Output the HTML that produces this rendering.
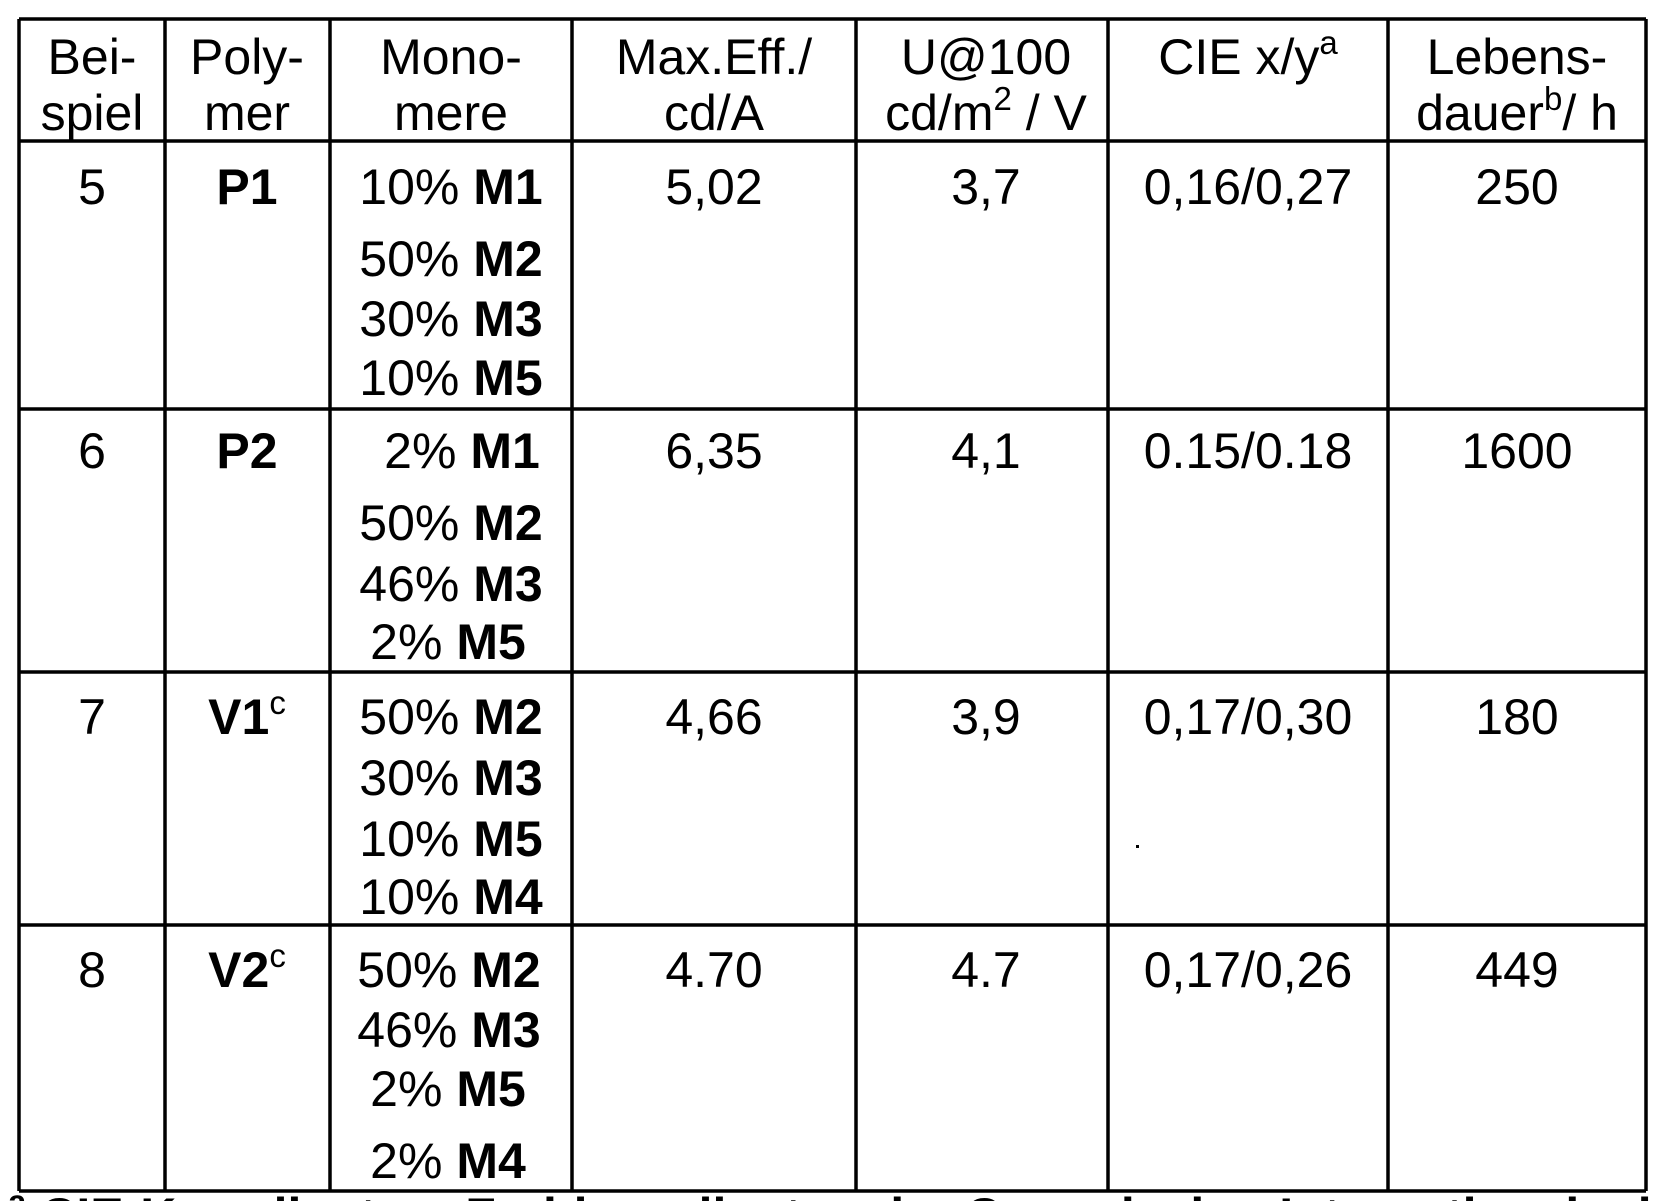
<!DOCTYPE html>
<html><head><meta charset="utf-8"><style>
html,body{margin:0;padding:0;background:#fff;width:1659px;height:1201px;overflow:hidden}
svg{display:block}
text{font-family:"Liberation Sans",Arial,sans-serif;font-size:50px;fill:#000}
.b{font-weight:bold}
</style></head><body>
<svg width="1659" height="1201" viewBox="0 0 1659 1201">
<g stroke="#000" stroke-width="3.5" fill="none">
<line x1="19" y1="19" x2="1646" y2="19"/>
<line x1="19" y1="141" x2="1646" y2="141"/>
<line x1="19" y1="409" x2="1646" y2="409"/>
<line x1="19" y1="672" x2="1646" y2="672"/>
<line x1="19" y1="925" x2="1646" y2="925"/>
<line x1="19" y1="1191" x2="1646" y2="1191"/>
<line x1="19" y1="19" x2="19" y2="1191"/>
<line x1="165" y1="19" x2="165" y2="1191"/>
<line x1="330" y1="19" x2="330" y2="1191"/>
<line x1="572" y1="19" x2="572" y2="1191"/>
<line x1="856" y1="19" x2="856" y2="1191"/>
<line x1="1108" y1="19" x2="1108" y2="1191"/>
<line x1="1388" y1="19" x2="1388" y2="1191"/>
<line x1="1646" y1="19" x2="1646" y2="1191"/>
</g>
<rect x="1136" y="845" width="3" height="3" fill="#000"/>
<g text-anchor="middle">
<text x="92" y="74">Bei-</text><text x="92" y="130">spiel</text>
<text x="247" y="74">Poly-</text><text x="247" y="130">mer</text>
<text x="451" y="74">Mono-</text><text x="451" y="130">mere</text>
<text x="714" y="74">Max.Eff./</text><text x="714" y="130">cd/A</text>
<text x="986" y="74">U@100</text><text x="986" y="130">cd/m<tspan font-size="33" dy="-20">2</tspan><tspan dy="20"> / V</tspan></text>
<text x="1248" y="74">CIE x/y<tspan font-size="33" dy="-20">a</tspan></text>
<text x="1517" y="74">Lebens-</text><text x="1517" y="130">dauer<tspan font-size="33" dy="-20">b</tspan><tspan dy="20">/ h</tspan></text>

<text x="92" y="204">5</text><text x="247" y="204" class="b">P1</text>
<text x="451" y="204">10% <tspan class="b">M1</tspan></text>
<text x="451" y="276">50% <tspan class="b">M2</tspan></text>
<text x="451" y="336">30% <tspan class="b">M3</tspan></text>
<text x="451" y="395">10% <tspan class="b">M5</tspan></text>
<text x="714" y="204">5,02</text><text x="986" y="204">3,7</text><text x="1248" y="204">0,16/0,27</text><text x="1517" y="204">250</text>

<text x="92" y="468">6</text><text x="247" y="468" class="b">P2</text>
<text x="462" y="468">2% <tspan class="b">M1</tspan></text>
<text x="451" y="540">50% <tspan class="b">M2</tspan></text>
<text x="451" y="601">46% <tspan class="b">M3</tspan></text>
<text x="448" y="659">2% <tspan class="b">M5</tspan></text>
<text x="714" y="468">6,35</text><text x="986" y="468">4,1</text><text x="1248" y="468">0.15/0.18</text><text x="1517" y="468">1600</text>

<text x="92" y="734">7</text><text x="247" y="734"><tspan class="b">V1</tspan><tspan font-size="33" dy="-20">c</tspan></text>
<text x="451" y="734">50% <tspan class="b">M2</tspan></text>
<text x="451" y="795">30% <tspan class="b">M3</tspan></text>
<text x="451" y="856">10% <tspan class="b">M5</tspan></text>
<text x="451" y="914">10% <tspan class="b">M4</tspan></text>
<text x="714" y="734">4,66</text><text x="986" y="734">3,9</text><text x="1248" y="734">0,17/0,30</text><text x="1517" y="734">180</text>

<text x="92" y="987">8</text><text x="247" y="987"><tspan class="b">V2</tspan><tspan font-size="33" dy="-20">c</tspan></text>
<text x="449" y="987">50% <tspan class="b">M2</tspan></text>
<text x="449" y="1047">46% <tspan class="b">M3</tspan></text>
<text x="448" y="1106">2% <tspan class="b">M5</tspan></text>
<text x="448" y="1178">2% <tspan class="b">M4</tspan></text>
<text x="714" y="987">4.70</text><text x="986" y="987">4.7</text><text x="1248" y="987">0,17/0,26</text><text x="1517" y="987">449</text>
</g>
<text x="8" y="1233" class="b"><tspan font-size="33" dy="-20">a</tspan><tspan dy="20"> CIE-Koordinaten: Farbkoordinaten der Commission Internationale de</tspan></text>
</svg>
</body></html>
